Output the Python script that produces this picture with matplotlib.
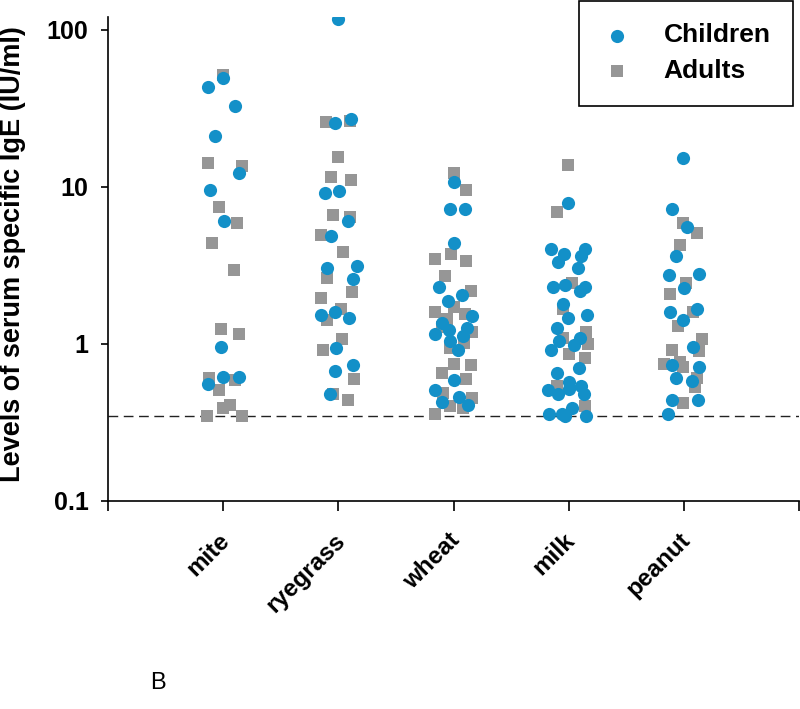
import matplotlib
matplotlib.use('Agg')
import matplotlib.pyplot as plt
import matplotlib.transforms as mtransforms
import numpy as np
from matplotlib.ticker import NullLocator

plt.rcParams['font.family'] = ['Liberation Sans', 'DejaVu Sans']

# Datos (IU/ml) y desplazamiento horizontal de cada punto
categories = ['mite', 'ryegrass', 'wheat', 'milk', 'peanut']

mite_children = [43.6, 49.1, 33.0, 21.0, 12.2, 9.5, 6.1, 0.96, 0.62, 0.62, 0.56]
mite_children_dx = [-0.13, 0, 0.10, -0.07, 0.14, -0.11, 0.01, -0.02, 0, 0.14, -0.13]
mite_adults = [52, 14.3, 13.7, 7.5, 5.9, 4.4, 2.94, 1.24, 1.15, 0.61, 0.59, 0.51, 0.41, 0.39, 0.35, 0.35]
mite_adults_dx = [0, -0.13, 0.16, -0.04, 0.12, -0.10, 0.09, -0.02, 0.14, -0.12, 0.10, -0.04, 0.06, 0, -0.14, 0.16]

ryegrass_children = [116.7, 27.3, 25.4, 9.1, 9.4, 6.03, 4.84, 3.03, 3.16, 2.61, 1.52, 1.59, 1.47, 0.94, 0.73, 0.67, 0.48]
ryegrass_children_dx = [0, 0.11, -0.03, -0.12, 0.01, 0.08, -0.06, -0.10, 0.16, 0.13, -0.15, -0.03, 0.09, -0.02, 0.13, -0.03, -0.07]
ryegrass_adults = [26.1, 26.5, 15.6, 11.5, 11.0, 6.68, 6.4, 4.98, 3.88, 2.65, 2.13, 1.95, 1.66, 1.43, 1.07, 0.91, 0.60, 0.48, 0.44]
ryegrass_adults_dx = [-0.11, 0.10, 0, -0.06, 0.11, -0.05, 0.10, -0.15, 0.04, -0.10, 0.12, -0.15, 0.02, -0.10, 0.03, -0.13, 0.14, -0.05, 0.08]

wheat_children = [10.7, 7.19, 7.19, 4.43, 2.32, 1.87, 2.04, 1.50, 1.37, 1.22, 1.15, 1.27, 1.13, 1.05, 0.91, 0.59, 0.51, 0.43, 0.46, 0.41]
wheat_children_dx = [0, -0.03, 0.10, 0, -0.13, -0.05, 0.07, 0.16, -0.10, -0.04, -0.16, 0.12, 0.08, -0.03, 0.04, 0, -0.16, -0.10, 0.05, 0.13]
wheat_adults = [12.2, 9.5, 3.5, 3.77, 3.40, 2.73, 2.16, 1.73, 1.61, 1.45, 1.56, 1.20, 1.29, 1.02, 0.94, 0.75, 0.73, 0.65, 0.60, 0.49, 0.45, 0.40, 0.39, 0.36]
wheat_adults_dx = [0, 0.11, -0.16, -0.02, 0.11, -0.07, 0.15, 0, -0.16, -0.06, 0.10, 0.16, -0.10, 0.09, -0.03, 0, 0.15, -0.10, 0.11, -0.09, 0.16, -0.03, 0.08, -0.16]

milk_children = [7.96, 4.0, 3.77, 4.0, 3.35, 3.66, 3.07, 2.32, 2.36, 2.32, 2.16, 1.81, 1.47, 1.52, 1.27, 1.05,
                 1.10, 0.99, 0.91, 0.70, 0.65, 0.57, 0.51, 0.48, 0.52, 0.54, 0.48, 0.36, 0.36, 0.39, 0.35, 0.35]
milk_children_dx = [-0.01, -0.15, -0.04, 0.14, -0.09, 0.11, 0.08, -0.14, -0.03, 0.14, 0.10, -0.05, -0.01, 0.16, -0.10, -0.08,
                    0.10, 0.05, -0.15, 0.09, -0.10, 0, -0.18, -0.09, 0, 0.11, 0.13, -0.17, -0.06, 0.03, -0.03, 0.15]
milk_adults = [13.9, 6.88, 2.46, 1.68, 1.20, 1.10, 1.0, 0.86, 0.81, 0.54, 0.40]
milk_adults_dx = [-0.01, -0.10, 0.03, -0.05, 0.15, -0.05, 0.17, 0, 0.14, -0.10, 0.14]

peanut_children = [15.2, 7.19, 5.6, 3.66, 2.77, 2.81, 2.29, 1.59, 1.66, 1.43, 0.96, 0.74, 0.71, 0.61, 0.58, 0.44, 0.44, 0.36]
peanut_children_dx = [-0.01, -0.10, 0.03, -0.07, -0.13, 0.13, 0, -0.12, 0.11, -0.01, 0.08, -0.10, 0.13, -0.07, 0.07, -0.10, 0.12, -0.14]
peanut_adults = [5.94, 5.13, 4.30, 2.07, 2.43, 1.61, 1.31, 1.08, 0.91, 0.90, 0.75, 0.77, 0.71, 0.61, 0.53, 0.42]
peanut_adults_dx = [-0.01, 0.11, -0.03, -0.12, 0.02, 0.08, -0.05, 0.16, -0.10, 0.13, -0.17, -0.03, -0.01, 0.11, 0.10, -0.01]

cutoff = 0.35
y_ticks = [0.1, 1, 10, 100]
y_ticklabels = ['0.1', '1', '10', '100']

children = [mite_children, ryegrass_children, wheat_children, milk_children, peanut_children]
children_dx = [mite_children_dx, ryegrass_children_dx, wheat_children_dx, milk_children_dx, peanut_children_dx]
adults = [mite_adults, ryegrass_adults, wheat_adults, milk_adults, peanut_adults]
adults_dx = [mite_adults_dx, ryegrass_adults_dx, wheat_adults_dx, milk_adults_dx, peanut_adults_dx]

blue = '#1390c8'
grey = '#969696'

fig = plt.figure(figsize=(8, 7.09), dpi=100)
ax = fig.add_axes([108/800, 1 - 501/709, 691/800, 484/709])

# primero los adultos (cuadrados) y luego los ninos encima
for i in range(len(categories)):
    pos = i + 1
    ax.scatter(pos + np.array(adults_dx[i]), adults[i], s=63, marker='s', color=grey,
               linewidths=0, zorder=2, label='Adults' if i == 0 else None)
    ax.scatter(pos + np.array(children_dx[i]), children[i], s=90, marker='o', color=blue,
               linewidths=0, zorder=3, label='Children' if i == 0 else None)

# linea de corte
ax.axhline(cutoff, color='#222222', linewidth=1, linestyle=(0, (7, 4)), zorder=1)

ax.set_yscale('log')
ax.set_ylim(0.1, 121)
ax.set_xlim(0, 6)
ax.set_yticks(y_ticks)
ax.set_yticklabels(y_ticklabels, fontsize=18, fontweight='bold')
ax.yaxis.set_minor_locator(NullLocator())
ax.set_xticks(range(len(categories) + 2))
ax.set_xticklabels([''] + categories + [''], fontsize=17.5, fontweight='bold',
                   rotation=45, ha='right', rotation_mode='anchor')

for s in ['top', 'right']:
    ax.spines[s].set_visible(False)
for s in ['left', 'bottom']:
    ax.spines[s].set_linewidth(1.2)
ax.tick_params(axis='y', direction='out', length=5, width=1.2, pad=9)
ax.tick_params(axis='x', direction='out', length=7, width=1.2, pad=13)

# correr un poco las etiquetas del eje x a la izquierda
offset = mtransforms.ScaledTranslation(-5/100, 0, fig.dpi_scale_trans)
for lab in ax.get_xticklabels():
    lab.set_transform(lab.get_transform() + offset)

ax.set_ylabel('Levels of serum specific IgE (IU/ml)', fontsize=19.5, fontweight='bold')
ax.yaxis.set_label_coords(-0.118, 0.51)

# leyenda con ninos primero
h, l = ax.get_legend_handles_labels()
leg = ax.legend([h[1], h[0]], [l[1], l[0]], loc='upper right',
                bbox_to_anchor=(793/800, 1 - 1/709), bbox_transform=fig.transFigure,
                fancybox=False, framealpha=1, edgecolor='black',
                prop={'size': 19, 'weight': 'bold'}, borderpad=0.85,
                labelspacing=0.45, handletextpad=1.2, handlelength=1.15, borderaxespad=0)
leg.get_frame().set_linewidth(1.2)

fig.text(150/800, 1 - 683/709, 'B', fontsize=17, va='center')

fig.savefig('out.png', dpi=100)
